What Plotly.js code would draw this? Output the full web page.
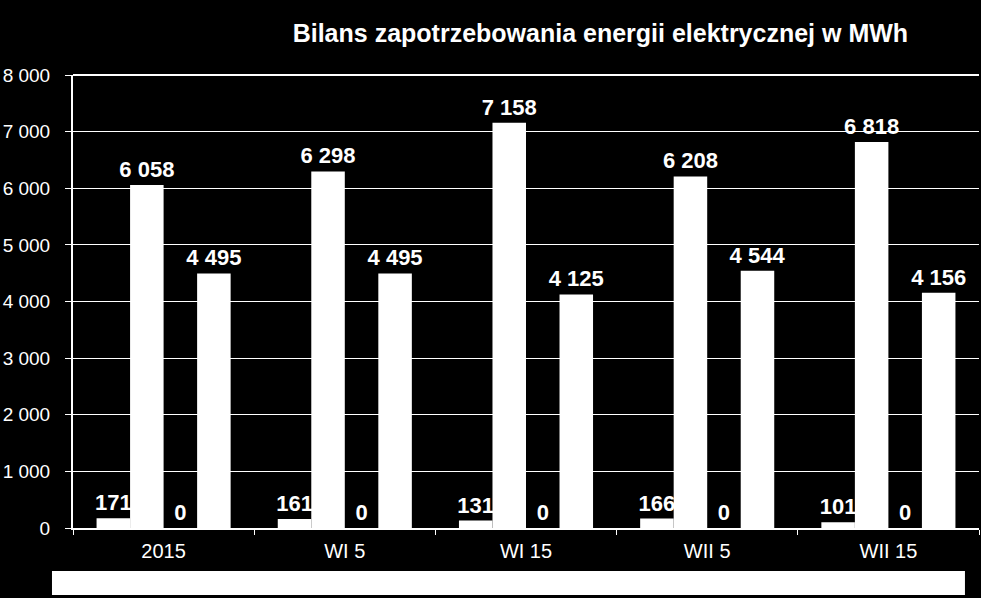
<!DOCTYPE html>
<html>
<head>
<meta charset="utf-8">
<script src="https://cdn.plot.ly/plotly-3.0.1.min.js"></script>
<style>html,body{margin:0;padding:0;background:#000;}#chart{width:981px;height:598px;}</style>
</head>
<body>
<div id="chart"></div>
<script>
const categories = ["2015", "WI 5", "WI 15", "WII 5", "WII 15"];
const series1 = [171, 161, 131, 166, 101];
const series2 = [6058, 6298, 7158, 6208, 6818];
const series3 = [0, 0, 0, 0, 0];
const series4 = [4495, 4495, 4125, 4544, 4156];
const yTicks = [0, 1000, 2000, 3000, 4000, 5000, 6000, 7000, 8000];

const FONT = "Liberation Sans, Arial, sans-serif";
function bar(vals, name) {
  return {
    type: "bar", x: categories, y: vals, name: name,
    marker: {color: "#ffffff", line: {width: 0}},
    texttemplate: "%{y:,}", textposition: "outside",
    textfont: {family: FONT, size: 22, color: "#ffffff", weight: "bold"},
    cliponaxis: false, constraintext: "none", hoverinfo: "skip"
  };
}
const data = [bar(series1, "s1"), bar(series2, "s2"), bar(series3, "s3"), bar(series4, "s4")];

const layout = {
  width: 981, height: 598,
  paper_bgcolor: "#000000", plot_bgcolor: "#000000",
  separators: ", ",
  font: {family: FONT, color: "#ffffff"},
  margin: {l: 73, r: 2, t: 75, b: 70},
  showlegend: false,
  barmode: "group", bargap: 0.26, bargroupgap: 0,
  title: {
    text: "<b>Bilans zapotrzebowania energii elektrycznej w MWh</b>",
    font: {family: FONT, size: 25, color: "#ffffff"},
    xref: "container", x: 0.612, xanchor: "center",
    yref: "container", y: 0.945, yanchor: "middle"
  },
  xaxis: {
    type: "category",
    showline: true, linecolor: "#ffffff", linewidth: 2,
    ticks: "outside", tickson: "boundaries", ticklen: 5, tickcolor: "#ffffff", tickwidth: 1,
    ticklabelstandoff: 4,
    tickfont: {family: FONT, size: 20, color: "#ffffff"},
    showgrid: false, zeroline: false
  },
  yaxis: {
    range: [0, 8000], tickvals: yTicks, tickformat: ",d", separatethousands: true,
    showline: true, linecolor: "#ffffff", linewidth: 2,
    ticks: "outside", ticklen: 6, tickcolor: "#ffffff", tickwidth: 1,
    ticklabelstandoff: 11,
    tickfont: {family: FONT, size: 19, color: "#ffffff"},
    showgrid: true, gridcolor: "#ffffff", gridwidth: 1,
    zeroline: false
  },
  shapes: [
    {type: "rect", xref: "paper", yref: "paper", x0: -0.0232, x1: 0.9845, y0: -0.148, y1: -0.0949,
     fillcolor: "#ffffff", line: {width: 0}, layer: "above"},
    {type: "line", xref: "paper", yref: "paper", x0: 0, x1: 1, y0: 1, y1: 1,
     line: {color: "#ffffff", width: 2}}
  ]
};
Plotly.newPlot("chart", data, layout, {displayModeBar: false, staticPlot: true});
</script>
</body>
</html>
